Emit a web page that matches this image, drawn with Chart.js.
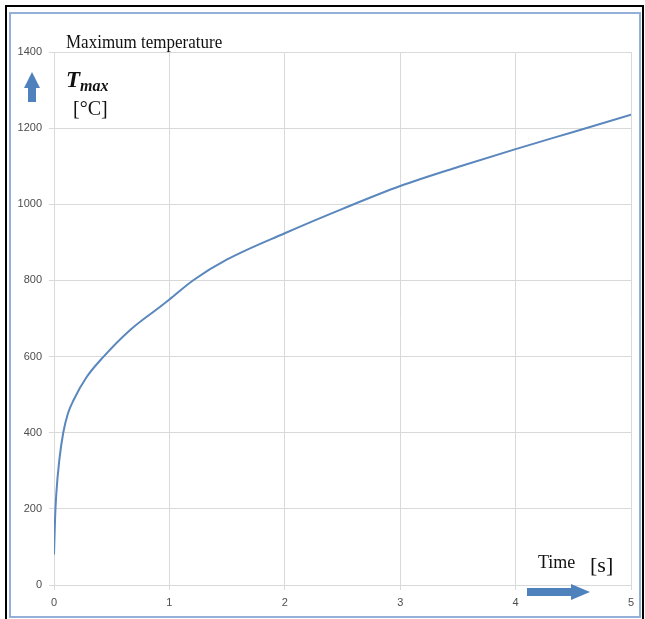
<!DOCTYPE html>
<html>
<head>
<meta charset="utf-8">
<script src="https://cdn.jsdelivr.net/npm/chart.js@4"></script>
<style>
    body { margin: 0; background: #fff; }
    .frame { position: absolute; left: 5px; top: 5px; width: 639px; height: 616px; border: 2px solid #000; box-sizing: border-box; }
    .inner { position: absolute; left: 9px; top: 12px; width: 632px; height: 606px; border: 2px solid #94b0d8; box-sizing: border-box; }
    .wrap { position: absolute; left: 0; top: 0; width: 645px; height: 619px; }
    .lbl { position: absolute; font-family: 'Liberation Serif', 'DejaVu Serif', serif; color: #111; white-space: nowrap; line-height: 1; }
</style>
</head>
<body>
<div class="frame"></div>
<div class="inner"></div>
<div class="wrap"><canvas id="tempChart" width="645" height="619"></canvas></div>
<div class="lbl" style="left:66px; top:33px; font-size:17px; transform:scaleY(1.1); transform-origin:left top;">Maximum temperature</div>
<div class="lbl" style="left:66px; top:68px; font-size:23px; font-weight:bold; font-style:italic;">T<span style="font-size:16px; position:relative; top:4px;">max</span></div>
<div class="lbl" style="left:73px; top:98px; font-size:20px;">[°C]</div>
<div class="lbl" style="left:538px; top:553px; font-size:18px;">Time</div>
<div class="lbl" style="left:590px; top:554px; font-size:22px;">[s]</div>
<script>
// time [s] and maximum temperature [°C]
const times = [0, 0.01, 0.02, 0.046, 0.08, 0.12, 0.17, 0.28, 0.43, 0.66, 0.92, 1.0, 1.21, 1.5, 2.0, 2.5, 3.0, 3.5, 4.0, 4.5, 5.0];
const tempMax = [80, 180, 240, 328, 400, 450, 486, 545, 600, 670, 731, 750, 801, 855, 924, 988, 1048, 1098, 1145, 1190, 1235];
const xTicks = [0, 1, 2, 3, 4, 5];
const yTicks = [0, 200, 400, 600, 800, 1000, 1200, 1400];

const points = times.map((t, i) => ({ x: t, y: tempMax[i] }));

// blue block arrows next to the axis names
const arrowPlugin = {
    id: 'arrows',
    afterDraw(chart) {
        const ctx = chart.ctx;
        ctx.save();
        ctx.fillStyle = '#4f81bd';
        // up arrow
        ctx.beginPath();
        ctx.moveTo(32, 72);
        ctx.lineTo(40, 88);
        ctx.lineTo(36, 88);
        ctx.lineTo(36, 102);
        ctx.lineTo(28, 102);
        ctx.lineTo(28, 88);
        ctx.lineTo(24, 88);
        ctx.closePath();
        ctx.fill();
        // right arrow
        ctx.beginPath();
        ctx.moveTo(527, 588);
        ctx.lineTo(571, 588);
        ctx.lineTo(571, 584);
        ctx.lineTo(590, 592);
        ctx.lineTo(571, 600);
        ctx.lineTo(571, 596);
        ctx.lineTo(527, 596);
        ctx.closePath();
        ctx.fill();
        ctx.restore();
    }
};

new Chart(document.getElementById('tempChart'), {
    type: 'scatter',
    data: {
        datasets: [{
            label: 'Tmax',
            data: points,
            showLine: true,
            borderColor: '#5a87bd',
            borderWidth: 2,
            pointRadius: 0,
            cubicInterpolationMode: 'monotone'
        }]
    },
    options: {
        responsive: false,
        animation: false,
        layout: { padding: { left: 0, top: 52, right: 14, bottom: 10 } },
        plugins: {
            legend: { display: false },
            tooltip: { enabled: false }
        },
        scales: {
            x: {
                type: 'linear',
                min: 0,
                max: 5,
                afterBuildTicks: (scale) => { scale.ticks = xTicks.map(v => ({ value: v })); },
                afterFit: (scale) => { scale.height = 24; },
                grid: { color: '#d9d9d9', tickLength: 5 },
                border: { color: '#d9d9d9' },
                ticks: { color: '#4d4d4d', padding: 6, font: { family: "'Liberation Sans', sans-serif", size: 11 }, callback: (v) => String(v) }
            },
            y: {
                min: 0,
                max: 1400,
                afterBuildTicks: (scale) => { scale.ticks = yTicks.map(v => ({ value: v })); },
                afterFit: (scale) => { scale.width = 54; },
                grid: { color: '#d9d9d9', tickLength: 5 },
                border: { color: '#d9d9d9' },
                ticks: { color: '#4d4d4d', padding: 7, font: { family: "'Liberation Sans', sans-serif", size: 11 }, callback: (v) => String(v) }
            }
        }
    },
    plugins: [arrowPlugin]
});
</script>
</body>
</html>
